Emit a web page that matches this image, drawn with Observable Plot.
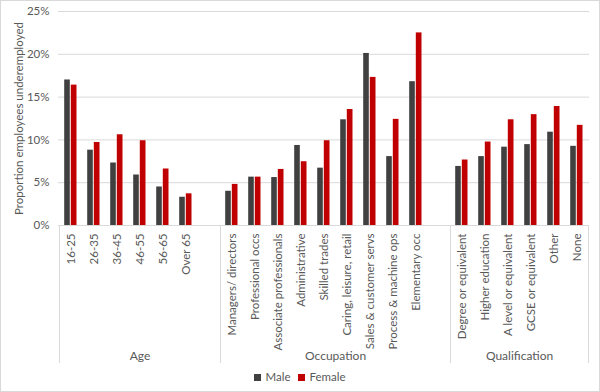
<!DOCTYPE html>
<html><head><meta charset="utf-8">
<script src="https://cdn.jsdelivr.net/npm/d3@7"></script>
<script src="https://cdn.jsdelivr.net/npm/@observablehq/plot@0.6"></script>
<style>
body{margin:0;background:#fff;font-family:Lato,sans-serif;}
#frame{width:600px;height:392px;box-sizing:border-box;border:1px solid #d9d9d9;position:relative;overflow:hidden;}
#chart svg{display:block;}
#legend{position:absolute;top:369px;left:0;width:598px;text-align:center;font-size:11.5px;color:#595959;line-height:14px;}
#legend span.item{display:inline-block;margin:0 4px;}
#legend i{display:inline-block;width:7px;height:7px;margin-right:4px;vertical-align:0px;}
</style></head><body>
<div id="frame"><div id="chart"></div><div id="legend"></div></div>
<script>
// ---- data (percent) ----
const groupNames = ["Age", "Occupation", "Qualification"];
const ageCats = ["16-25", "26-35", "36-45", "46-55", "56-65", "Over 65"];
const ageMale = [17.0, 8.8, 7.3, 5.9, 4.5, 3.3];
const ageFemale = [16.4, 9.7, 10.6, 9.9, 6.6, 3.7];
const occCats = ["Managers/ directors", "Professional occs", "Associate professionals", "Administrative", "Skilled trades", "Caring, leisure, retail", "Sales & customer servs", "Process & machine ops", "Elementary occ"];
const occMale = [4.0, 5.65, 5.6, 9.35, 6.7, 12.35, 20.1, 8.05, 16.8];
const occFemale = [4.8, 5.65, 6.55, 7.45, 9.9, 13.55, 17.3, 12.4, 22.5];
const qualCats = ["Degree or equivalent", "Higher education", "A level or equivalent", "GCSE or equivalent", "Other", "None"];
const qualMale = [6.9, 8.05, 9.15, 9.45, 10.9, 9.25];
const qualFemale = [7.65, 9.75, 12.35, 12.95, 13.9, 11.7];
const seriesNames = ["Male", "Female"];
const seriesColors = ["#404040", "#c00000"];
const yTicks = [0, 5, 10, 15, 20, 25];
const yLabel = "Proportion employees underemployed";

// ---- build ----
const groups = [
  {name: groupNames[0], cats: ageCats, m: ageMale, f: ageFemale},
  {name: groupNames[1], cats: occCats, m: occMale, f: occFemale},
  {name: groupNames[2], cats: qualCats, m: qualMale, f: qualFemale}
];
const slots = [];
const rows = [];
groups.forEach((g, gi) => {
  g.slots = g.cats.slice();
  if (gi < groups.length - 1) g.slots.push(" ".repeat(gi + 1)); // blank spacer slot
  g.slots.forEach(s => slots.push(s));
  g.cats.forEach((c, i) => {
    rows.push({cat: c, series: seriesNames[0], value: g.m[i]});
    rows.push({cat: c, series: seriesNames[1], value: g.f[i]});
  });
});

const W = 598, H = 366, ml = 57, mr = 10, mt = 10, mb = 142;
const step = (W - ml - mr) / slots.length;
const plotH = H - mt - mb;
const grey = "#595959", line = "#d9d9d9";

const marks = [
  Plot.gridY({ticks: yTicks.filter(d => d > 0), stroke: line, strokeOpacity: 1}),
  Plot.ruleY([0], {stroke: line}),
  Plot.barY(rows.filter(d => d.series === seriesNames[0]), {x: "cat", y: "value", fill: seriesColors[0], insetLeft: 5.2, insetRight: 12.2}),
  Plot.barY(rows.filter(d => d.series === seriesNames[1]), {x: "cat", y: "value", fill: seriesColors[1], insetLeft: 11.8, insetRight: 5.5}),
  Plot.axisY({ticks: yTicks, tickSize: 0, tickPadding: 9, tickFormat: d => d + "%", fontSize: 11.5, color: grey, label: null}),
  Plot.axisX({tickRotate: -90, tickSize: 0, tickPadding: 8, tickFormat: d => d.trim(), fontSize: 11.5, color: grey, label: null}),
  Plot.text([yLabel], {frameAnchor: "left", rotate: -90, dx: -39, textAnchor: "middle", lineAnchor: "middle", fontSize: 11.5, fill: grey}),
  // group separators
  Plot.ruleX(groups.map(g => g.slots[0]), {dx: -step / 2, insetTop: plotH, insetBottom: -138, stroke: line}),
  Plot.ruleX([groups[groups.length - 1].slots.at(-1)], {dx: step / 2, insetTop: plotH, insetBottom: -138, stroke: line})
];
groups.forEach(g => {
  const n = g.slots.length;
  const mid = g.slots[Math.floor((n - 1) / 2)];
  marks.push(Plot.text([g.name], {x: () => mid, frameAnchor: "bottom", dy: 131, dx: n % 2 === 0 ? step / 2 : 0, textAnchor: "middle", lineAnchor: "middle", fontSize: 12, fill: grey}));
});

const chart = Plot.plot({
  width: W, height: H,
  marginLeft: ml, marginRight: mr, marginTop: mt, marginBottom: mb,
  style: {fontFamily: "Lato, sans-serif", background: "transparent", overflow: "visible"},
  x: {domain: slots, padding: 0, axis: null},
  y: {domain: [0, 25], axis: null},
  marks
});
document.getElementById("chart").appendChild(chart);

const legend = document.getElementById("legend");
seriesNames.forEach((s, i) => {
  const span = document.createElement("span");
  span.className = "item";
  const sw = document.createElement("i");
  sw.style.background = seriesColors[i];
  span.appendChild(sw);
  span.appendChild(document.createTextNode(s));
  legend.appendChild(span);
});
</script>
</body></html>
